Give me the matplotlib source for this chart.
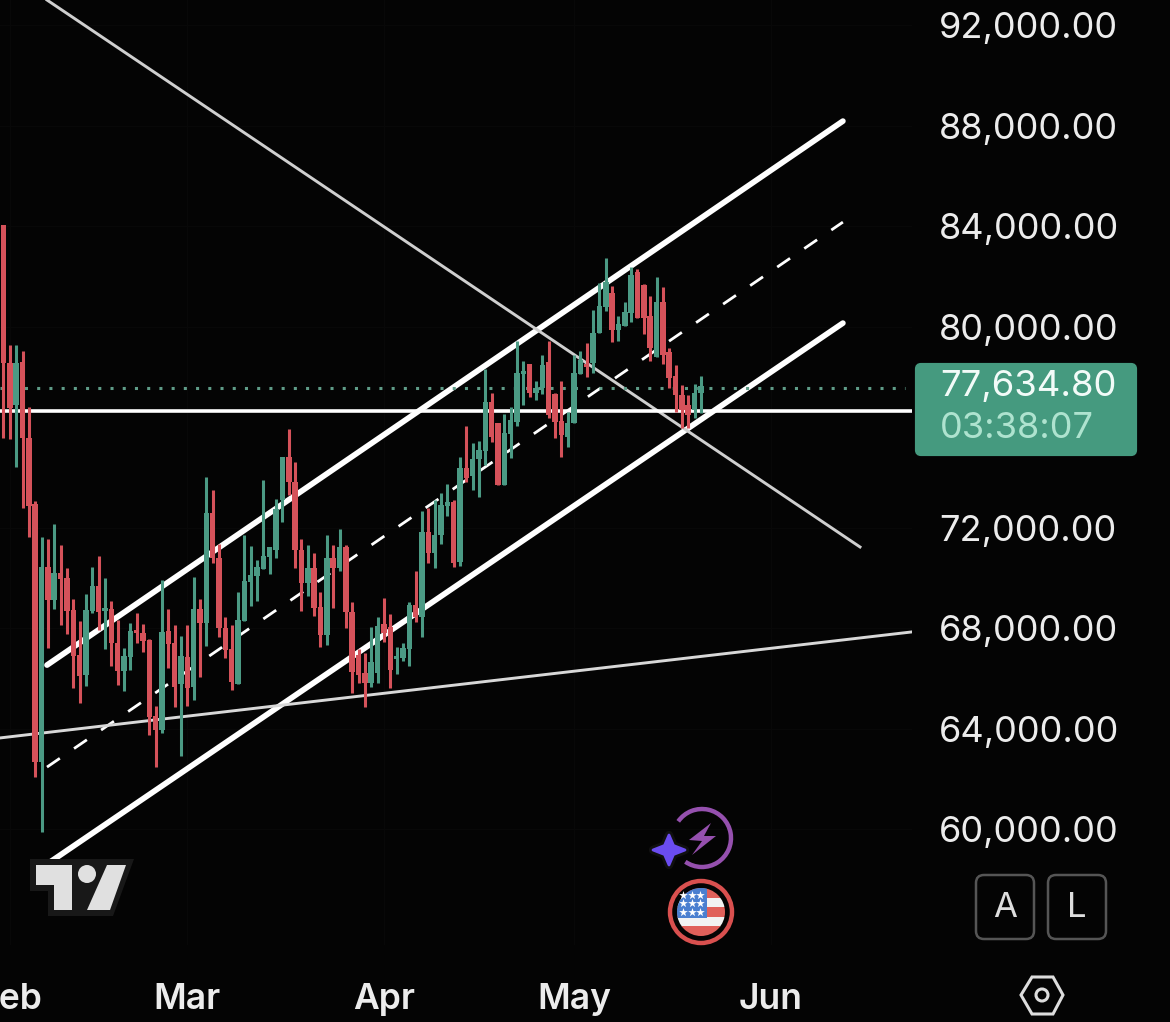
import numpy as np
import matplotlib
matplotlib.use("Agg")
import matplotlib.pyplot as plt
from matplotlib.patches import FancyBboxPatch, Circle, Polygon, Rectangle, Arc

# ---------- data (prices in thousands of USD) ----------
opens = [84.05,78.55,76.9,78.59,75.57,72.94,62.67,70.43,69.12,70.19,70.0,68.72,66.93,66.13,68.68,69.68,68.68,68.76,67.41,66.29,
66.85,67.93,67.81,67.53,64.5,63.95,67.89,67.41,65.78,66.85,65.66,68.76,68.2,72.58,70.79,68.01,67.17,65.78,68.28,69.84,
70.08,70.35,70.83,71.11,73.1,74.81,73.82,71.11,69.8,70.39,68.84,67.73,70.79,70.39,71.23,68.64,66.93,66.21,65.82,66.21,
68.16,68.05,66.77,66.81,67.17,68.92,68.44,71.83,70.99,71.71,72.86,73.02,70.63,74.37,74.05,74.73,75.05,77.0,76.16,73.7,
75.73,76.2,78.11,78.51,77.36,77.56,78.59,77.32,76.24,75.61,76.16,78.11,78.51,78.55,79.75,80.78,81.34,79.87,80.03,80.54,
82.17,81.66,80.42,78.79,80.98,78.99,78.04,77.28,76.88,76.68,77.36]
highs = [84.05,79.27,79.27,79.03,76.8,73.06,71.63,71.55,72.14,71.31,70.39,69.16,68.28,69.36,70.43,70.87,70.0,69.08,68.32,67.21,
68.2,68.6,68.16,67.57,64.9,69.92,68.76,68.13,67.69,68.13,70.04,69.16,74.02,73.5,71.35,68.44,68.13,69.44,71.71,71.27,
70.71,73.9,71.23,73.14,74.81,75.93,74.61,71.55,71.31,70.99,69.44,71.71,71.31,71.95,71.31,69.04,67.17,67.01,68.05,68.44,
69.2,68.56,67.25,67.41,69.04,70.27,72.66,72.78,73.1,73.38,73.74,73.1,74.81,76.05,75.37,75.45,78.31,77.36,76.16,76.52,
76.8,79.43,78.63,78.51,77.84,78.87,79.43,77.36,77.84,76.6,78.87,79.03,79.35,80.66,81.74,82.73,81.62,80.42,80.98,82.37,
82.29,81.7,81.22,81.98,81.58,79.15,78.47,77.68,77.28,77.72,78.04]
lows = [75.57,75.53,74.41,72.78,71.63,62.07,59.89,67.21,68.76,68.13,67.77,65.62,65.02,65.7,68.6,67.93,67.17,66.49,65.74,65.5,
66.33,67.41,67.05,63.75,62.47,63.83,66.41,64.86,62.91,64.9,65.14,66.06,67.29,70.59,67.65,66.81,65.54,65.78,68.28,68.88,
69.08,70.35,70.15,70.79,72.22,73.3,70.39,68.68,69.28,68.48,67.25,67.33,68.8,70.27,68.01,65.42,65.82,64.86,65.66,65.82,
67.45,65.62,66.17,66.69,66.49,68.24,67.65,70.59,70.39,71.35,72.46,70.43,70.47,73.82,73.5,73.22,74.49,75.41,73.7,73.7,
74.77,76.05,76.88,77.2,77.08,77.32,76.36,75.57,74.81,75.21,76.16,78.11,78.0,78.15,79.75,80.62,79.39,79.43,80.03,80.18,
80.34,79.71,78.63,78.79,78.51,77.56,76.6,75.97,75.97,76.36,76.56]
closes = [78.55,76.76,78.55,75.57,72.86,62.67,70.43,69.12,70.19,69.96,68.68,66.89,66.1,68.72,69.68,68.64,68.8,67.41,66.29,66.89,
67.89,67.81,67.49,64.46,63.95,67.85,67.37,65.66,66.89,65.62,68.76,68.2,72.58,70.79,68.01,67.13,65.86,68.32,69.88,70.11,
70.43,70.87,71.23,72.74,74.81,73.82,71.11,69.8,70.39,68.8,67.73,70.79,70.39,71.23,68.64,66.25,66.13,65.82,66.65,68.09,
67.81,66.33,66.89,67.21,68.92,68.44,71.83,70.99,71.71,72.9,73.02,70.59,74.37,73.98,74.73,75.09,77.0,75.61,73.7,75.77,
76.28,78.15,78.23,77.36,77.56,78.47,76.48,76.2,75.69,76.16,78.15,78.67,78.39,79.75,80.82,81.78,79.87,80.1,80.58,82.05,
80.34,80.34,79.15,80.98,78.87,77.96,77.28,76.68,76.48,77.36,77.63]

price_ticks = [92, 88, 84, 80, 72, 68, 64, 60]
month_names = ["Feb", "Mar", "Apr", "May", "Jun"]
month_starts = [1, 29, 60, 90, 121]   # day number of the 1st of each month

channel_upper = ([6.86, 132.4], [66.53, 88.18])
channel_lower = ([7.33, 132.4], [58.69, 80.14])
channel_mid = ([6.86, 132.4], [62.47, 84.16])
diagonal = ([6.86, 135.1], [93.0, 71.23])
support = ([-0.55, 143.3], [63.63, 67.85])
level_price = 76.64
last_price = 77.56
last_label = "77,634.80"
countdown = "03:38:07"

# ---------- styling ----------
BG = "#040404"
RED = "#d5525a"
GREEN = "#4b9a84"
plt.rcParams["font.family"] = ["Inter", "DejaVu Sans"]
W, H = 1170, 1022
fig = plt.figure(figsize=(W / 100, H / 100), dpi=100, facecolor=BG)
ax = fig.add_axes([0, (H - 945) / H, 912 / W, 945 / H], facecolor=BG)
ax.set_xlim(-0.552, 143.3)
ax.set_ylim(93 - 0.0398 * 945, 93)
for s in ax.spines.values():
    s.set_visible(False)

days = np.arange(len(opens))
o, h, l, c = map(np.array, (opens, highs, lows, closes))
cols = [GREEN if ci >= oi else RED for oi, ci in zip(o, c)]

# guide lines
ax.set_axisbelow(True)
ax.grid(True, color="#080808", lw=0.8)
ax.plot(*channel_upper, color="white", lw=4.1, solid_capstyle="round", zorder=2)
ax.plot(*channel_lower, color="white", lw=4.1, solid_capstyle="round", zorder=2)
ax.plot(*channel_mid, color="white", lw=2.0, linestyle=(0, (5.6, 6.2)), zorder=2)
ax.plot(*diagonal, color="#cfcfcf", lw=2.1, zorder=2)
ax.plot(*support, color="#d8d8d8", lw=2.1, zorder=2)
ax.hlines(level_price, -0.552, 143.3, color="white", lw=2.6, zorder=2)
ax.hlines(last_price, -0.552, 142.2, color="#5f9c88", lw=2.2, linestyle=(0, (1, 3.0)), zorder=2)

# candles
ax.vlines(days, l, h, colors=cols, lw=2.2, zorder=3)
ax.bar(days, np.abs(c - o), bottom=np.minimum(o, c), width=0.86, color=cols, zorder=3)

# axes labels
ax.yaxis.tick_right()
ax.set_yticks(price_ticks)
ax.set_yticklabels([f"{v * 1000:,.2f}" for v in price_ticks], fontsize=26, color="#ececec")
ax.set_xticks(month_starts)
ax.set_xticklabels(month_names, fontsize=25.5, color="#ececec", fontweight="semibold")
ax.tick_params(axis="y", length=0, pad=19.5)
ax.tick_params(axis="x", length=0, pad=27)

# ---------- overlay: price badge, logo and interface icons ----------
ov = fig.add_axes([0, 0, 1, 1], facecolor="none", zorder=5)
ov.set_xlim(0, W)
ov.set_ylim(H, 0)
ov.axis("off")

ov.add_patch(FancyBboxPatch((917, 365), 218, 89, boxstyle="round,pad=0,rounding_size=4",
                            mutation_aspect=1, fc="#459a7f", ec="#459a7f", lw=3))
ov.text(940, 386, last_label, fontsize=26.3, color="#f2fbf8", va="center", ha="left")
ov.text(940, 428, countdown, fontsize=26, color="#aee3cf", va="center", ha="left")

# TradingView mark
ov.add_patch(Polygon([(30, 859), (134, 859), (113, 916), (48, 916), (48, 891), (30, 891)], fc="#181818", ec="none"))
ov.add_patch(Polygon([(36, 865), (72, 865), (72, 910), (54, 910), (54, 885), (36, 885)], fc="#e0e0e0", ec="none"))
ov.add_patch(Circle((87, 874), 9, fc="#e0e0e0", ec="none"))
ov.add_patch(Polygon([(107, 865), (126, 865), (110, 910), (87, 910)], fc="#e0e0e0", ec="none"))

# lightning badge
ov.add_patch(Arc((702, 838), 58, 58, theta1=-145, theta2=125, color="#9550ae", lw=3.2))
ov.add_patch(Polygon([(711, 823), (689, 840), (702, 841), (692, 855), (716, 836), (704, 836)], fc="#9550ae", ec="none"))
star = [(669, 835), (673.5, 845.5), (685, 850), (673.5, 854.5), (669, 865), (664.5, 854.5), (653, 850), (664.5, 845.5)]
ov.add_patch(Polygon(star, fc="#6a4cf0", ec="#101010", lw=6, joinstyle="round", zorder=3))
ov.add_patch(Polygon(star, fc="#6a4cf0", ec="#6a4cf0", lw=2, joinstyle="round", zorder=4))

# flag badge
ov.add_patch(Circle((701, 912), 31, fc="none", ec="#d9504f", lw=3.2))
clip = Circle((701, 912), 24, transform=ov.transData)
for top, colr in zip(np.arange(888, 936, 9.6), ["#e0605a", "#f2f2f2", "#e0605a", "#f2f2f2", "#e0605a"]):
    r = Rectangle((677, top), 48, 9.7, fc=colr, ec="none")
    ov.add_patch(r)
    r.set_clip_path(clip)
r = Rectangle((677, 888), 30, 30, fc="#4a7fd0", ec="none")
ov.add_patch(r)
r.set_clip_path(clip)
sx, sy = np.meshgrid([683, 692, 699.5], [895, 903, 912])
ov.scatter(sx.ravel(), sy.ravel(), marker="*", s=42, color="white", zorder=4, linewidths=0)

# A / L buttons and settings hexagon
for x0, lab in ((976, "A"), (1048, "L")):
    ov.add_patch(FancyBboxPatch((x0, 875), 58, 64, boxstyle="round,pad=0,rounding_size=8",
                                fc="none", ec="#555555", lw=1.8))
    ov.text(x0 + 29, 908, lab, fontsize=25, color="#dedede", ha="center", va="center")
ov.add_patch(Polygon([(1021, 995), (1032, 977), (1053, 977), (1063, 995), (1053, 1014), (1032, 1014)],
                     fc="none", ec="#dddddd", lw=2.2))
ov.add_patch(Circle((1042, 995), 6, fc="none", ec="#dddddd", lw=2.2))

fig.savefig("out.png", dpi=100, facecolor=BG)
